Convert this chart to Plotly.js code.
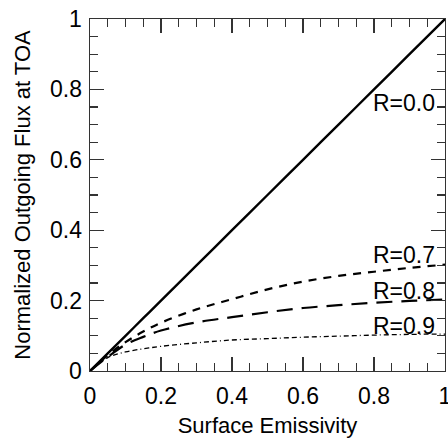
<!DOCTYPE html>
<html>
<head>
<meta charset="utf-8">
<script src="https://cdn.plot.ly/plotly-3.0.1.min.js"></script>
<style>html,body{margin:0;padding:0;background:#fff;}#chart{width:448px;height:438px;}</style>
</head>
<body>
<div id="chart"></div>
<script>
var emissivity = [0, 0.05, 0.1, 0.15, 0.2, 0.3, 0.4, 0.5, 0.6, 0.7, 0.8, 0.9, 1.0];
var fluxR00 = [0, 0.05, 0.1, 0.15, 0.2, 0.3, 0.4, 0.5, 0.6, 0.7, 0.8, 0.9, 1.0];
var fluxR07 = [0, 0.045, 0.082, 0.112, 0.137, 0.175, 0.204, 0.232, 0.254, 0.27, 0.282, 0.293, 0.302];
var fluxR08 = [0, 0.04, 0.075, 0.097, 0.115, 0.138, 0.153, 0.167, 0.179, 0.187, 0.194, 0.199, 0.203];
var fluxR09 = [0, 0.038, 0.054, 0.063, 0.07, 0.08, 0.088, 0.092, 0.096, 0.099, 0.102, 0.104, 0.105];
var seriesLabels = ["R=0.0", "R=0.7", "R=0.8", "R=0.9"];
var labelY = [0.762, 0.329, 0.226, 0.129];
var tickVals = [0, 0.2, 0.4, 0.6, 0.8, 1];
var tickText = ["0", "0.2", "0.4", "0.6", "0.8", "1"];

var font = "Liberation Sans, Arial, Helvetica, sans-serif";
var series = [fluxR00, fluxR07, fluxR08, fluxR09];
var styles = [
  {width: 2.4, dash: "solid"},
  {width: 2.2, dash: "8px,7px"},
  {width: 2.2, dash: "16px,9px"},
  {width: 1.3, dash: "5px,3px,5px,3px,1px,3px"}
];
var traces = series.map(function (s, i) {
  return {x: emissivity, y: s, type: "scatter", mode: "lines",
    line: {color: "#000", width: styles[i].width, dash: styles[i].dash, shape: "spline"},
    hoverinfo: "skip", showlegend: false};
});
var annotations = seriesLabels.map(function (t, i) {
  return {x: 0.977, y: labelY[i], xref: "x", yref: "y", text: t, showarrow: false,
    xanchor: "right", yanchor: "middle", font: {family: font, size: 23, color: "#000"}};
});
// y tick labels placed on the y scale (kept horizontal)
tickVals.forEach(function (v, i) {
  annotations.push({x: 0, y: v, xref: "paper", yref: "y", text: tickText[i], showarrow: false,
    xanchor: "right", yanchor: "middle", xshift: -6, font: {family: font, size: 23, color: "#000"}});
});
function axis(title) {
  return {
    range: [0, 1], tickvals: tickVals, ticktext: tickText, ticks: "inside", ticklen: 14,
    tickwidth: 1.3, tickcolor: "#333", showline: true, linecolor: "#333", linewidth: 1.3,
    mirror: "ticks", showgrid: false, zeroline: false, fixedrange: true, tickangle: 0,
    ticklabeloverflow: "allow",
    tickfont: {family: font, size: 23, color: "#000"},
    minor: {dtick: 0.05, tick0: 0, ticks: "inside", ticklen: 8, tickwidth: 1.3, tickcolor: "#333", showgrid: false},
    title: {text: title, font: {family: font, size: 22, color: "#000"}}
  };
}
var xa = axis("Surface Emissivity");
xa.title.standoff = 10;
xa.ticklabelstandoff = 4;
var ya = axis("Normalized Outgoing Flux at TOA");
ya.showticklabels = false;
ya.title.standoff = 52;
var layout = {
  width: 448, height: 438,
  margin: {l: 90, r: 3, t: 19, b: 67},
  paper_bgcolor: "#fff", plot_bgcolor: "#fff",
  xaxis: xa, yaxis: ya,
  annotations: annotations
};
Plotly.newPlot("chart", traces, layout, {staticPlot: true, displayModeBar: false});
</script>
</body>
</html>
